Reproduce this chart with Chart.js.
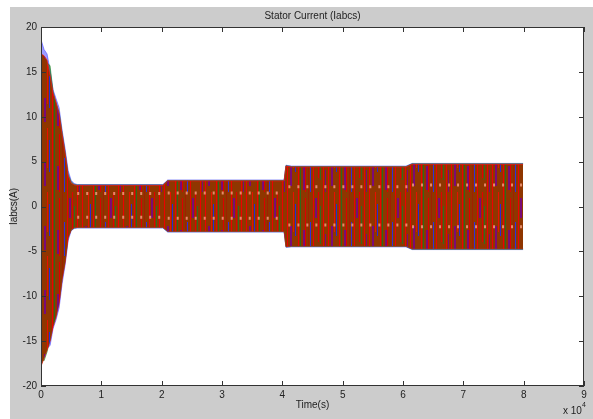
<!DOCTYPE html>
<html>
<head>
<meta charset="utf-8">
<script src="https://cdn.jsdelivr.net/npm/chart.js@4/dist/chart.umd.min.js"></script>
<style>
  html, body { margin: 0; padding: 0; background: #ffffff; }
  #wrap { width: 593px; height: 419px; position: relative; }
</style>
</head>
<body>
<div id="wrap"><canvas id="c" width="593" height="419"></canvas></div>
<script>
// Time samples of the current envelopes (units of 1e4 s)
const envTime = [0, 0.05, 0.1, 0.15, 0.2, 0.25, 0.3, 0.35, 0.4, 0.45, 0.5, 0.55, 0.6, 2.02, 2.1, 4.03, 4.06, 4.15, 6.05, 6.15, 7.99];

// Phase a (blue) peak envelope, A
const iaUpper = [18.6, 17.5, 17.0, 15.2, 13.0, 12.0, 11.0, 8.5, 6.4, 4.0, 2.9, 2.55, 2.45, 2.45, 2.95, 2.95, 4.6, 4.5, 4.5, 4.8, 4.8];
const iaLower = [-16.5, -16.5, -15.8, -15.5, -13.6, -12.6, -11.3, -8.6, -6.5, -3.8, -2.7, -2.45, -2.4, -2.4, -2.85, -2.85, -4.55, -4.5, -4.5, -4.8, -4.8];

// Phase b (green) peak envelope, A
const ibUpper = [16.0, 16.2, 16.0, 15.7, 12.8, 11.5, 10.5, 8.2, 6.0, 3.6, 2.75, 2.45, 2.4, 2.4, 2.9, 2.9, 4.55, 4.45, 4.45, 4.75, 4.75];
const ibLower = [-17.0, -17.2, -16.2, -14.8, -13.0, -12.0, -10.6, -8.0, -6.0, -3.4, -2.65, -2.4, -2.35, -2.35, -2.8, -2.8, -4.5, -4.45, -4.45, -4.75, -4.75];

// Phase c (red) peak envelope, A
const icUpper = [17.0, 16.8, 16.3, 14.6, 12.6, 11.6, 10.3, 8.0, 5.9, 3.4, 2.6, 2.4, 2.35, 2.35, 2.85, 2.85, 4.5, 4.4, 4.4, 4.7, 4.7];
const icLower = [-17.8, -16.9, -16.0, -15.0, -13.4, -12.3, -10.8, -8.1, -6.2, -3.5, -2.6, -2.35, -2.3, -2.3, -2.75, -2.75, -4.45, -4.4, -4.4, -4.7, -4.7];

// Levels where the three phases cross each other (light streaks inside the band)
const crossTime  = [0.6, 2.02, null, 2.1, 4.03, null, 4.1, 6.1, null, 6.15, 7.99];
const crossUpper = [1.45, 1.45, null, 1.5, 1.5, null, 2.2, 2.2, null, 2.4, 2.4];
const crossLower = [-1.2, -1.2, null, -1.3, -1.3, null, -2.06, -2.06, null, -2.25, -2.25];

// Axis ticks
const xTicks = [0, 1, 2, 3, 4, 5, 6, 7, 8, 9];
const yTicks = [-20, -15, -10, -5, 0, 5, 10, 15, 20];

const FONT = '"Liberation Sans", Arial, sans-serif';

function pts(xs, ys) {
  return xs.map((x, i) => ({ x: x === null ? NaN : x, y: ys[i] === null ? NaN : ys[i] }));
}

// Striped texture for the dense overlapping waveforms
function waveTexture() {
  const p = document.createElement('canvas');
  p.width = 41; p.height = 64;
  const g = p.getContext('2d');
  g.fillStyle = '#8f3600';
  g.fillRect(0, 0, 41, 64);
  // [x, colour, width, y0, y1]
  const stripes = [
    [0, '#ee0000', 1, 0, 64], [3, '#7a0a78', 2, 34, 58], [6, '#e81000', 1, 0, 40],
    [8, '#2a2ad0', 1, 12, 44], [11, '#ee0000', 1, 0, 64], [13, '#2f6a1a', 1, 0, 64],
    [16, '#7a0a78', 2, 38, 62], [18, '#dd0000', 1, 6, 64], [21, '#a02000', 1, 0, 64],
    [23, '#3030d8', 1, 30, 64], [26, '#ee0000', 1, 0, 64], [28, '#7a0a78', 2, 6, 26],
    [31, '#e00000', 1, 0, 50], [33, '#356a1f', 1, 14, 52], [36, '#ee0000', 1, 0, 64],
    [38, '#7a0a78', 1, 42, 64]
  ];
  stripes.forEach(s => {
    g.fillStyle = s[1];
    g.fillRect(s[0], s[3], s[2], s[4] - s[3]);
  });
  return g.createPattern(p, 'repeat');
}

const frame = {
  id: 'frame',
  beforeDraw(chart) {
    const { ctx, chartArea: a } = chart;
    ctx.save();
    ctx.fillStyle = '#ffffff';
    ctx.fillRect(0, 0, chart.width, chart.height);
    ctx.fillStyle = '#cccccc';
    ctx.fillRect(10, 7, chart.width - 10, chart.height - 7);
    ctx.fillStyle = '#ffffff';
    ctx.fillRect(a.left, a.top, a.right - a.left, a.bottom - a.top);
    ctx.restore();
  },
  afterDatasetsDraw(chart) {
    const { ctx, chartArea: a, scales } = chart;
    ctx.save();
    ctx.strokeStyle = '#333333';
    ctx.lineWidth = 1;
    ctx.beginPath();
    xTicks.forEach(v => {
      const px = Math.round(scales.x.getPixelForValue(v)) + 0.5;
      ctx.moveTo(px, a.bottom); ctx.lineTo(px, a.bottom - 5);
      ctx.moveTo(px, a.top); ctx.lineTo(px, a.top + 5);
    });
    yTicks.forEach(v => {
      const py = Math.round(scales.y.getPixelForValue(v)) + 0.5;
      ctx.moveTo(a.left, py); ctx.lineTo(a.left + 5, py);
      ctx.moveTo(a.right, py); ctx.lineTo(a.right - 5, py);
    });
    ctx.stroke();
    ctx.strokeRect(Math.round(a.left) + 0.5, Math.round(a.top) + 0.5,
                   Math.round(a.right - a.left) - 1, Math.round(a.bottom - a.top) - 1);
    ctx.restore();
  },
  afterDraw(chart) {
    const { ctx, chartArea: a } = chart;
    const cx = (a.left + a.right) / 2;
    ctx.save();
    ctx.fillStyle = '#222222';
    ctx.font = '10px ' + FONT;
    ctx.textAlign = 'center';
    ctx.textBaseline = 'middle';
    ctx.fillText('Stator Current (Iabcs)', cx, 16);
    ctx.fillText('Time(s)', cx, 405);
    ctx.save();
    ctx.translate(14, (a.top + a.bottom) / 2);
    ctx.rotate(-Math.PI / 2);
    ctx.fillText('Iabcs(A)', 0, 0);
    ctx.restore();
    ctx.textAlign = 'left';
    ctx.fillText('x 10', 563, 411);
    ctx.font = '7px ' + FONT;
    ctx.fillText('4', 582, 405);
    ctx.restore();
  }
};

const band = (upper, lower, target, line, fillStyle) => ([
  { data: pts(envTime, upper), borderColor: line, borderWidth: 1, backgroundColor: fillStyle,
    fill: target, pointRadius: 0, tension: 0 },
  { data: pts(envTime, lower), borderColor: line, borderWidth: 1, backgroundColor: fillStyle,
    fill: false, pointRadius: 0, tension: 0 }
]);

const crossLine = ys => ({
  data: pts(crossTime, ys), borderColor: 'rgba(250,160,130,0.8)', borderWidth: 3,
  borderDash: [2, 7], fill: false, pointRadius: 0, spanGaps: false
});

const datasets = [
  crossLine(crossUpper),
  crossLine(crossLower),
  ...band(icUpper, icLower, 3, 'rgba(230,20,20,0.8)', waveTexture()),
  ...band(ibUpper, ibLower, 5, 'rgba(20,130,20,0.55)', 'rgba(20,130,20,0.55)'),
  ...band(iaUpper, iaLower, 7, 'rgba(60,60,255,0.55)', 'rgba(60,60,255,0.5)')
];

new Chart(document.getElementById('c'), {
  type: 'line',
  data: { datasets },
  options: {
    responsive: false,
    animation: false,
    events: [],
    layout: { padding: { left: 0, right: 9, top: 27, bottom: 0 } },
    plugins: { legend: { display: false }, tooltip: { enabled: false }, title: { display: false } },
    scales: {
      x: {
        type: 'linear', min: 0, max: 9,
        afterBuildTicks: s => { s.ticks = xTicks.map(v => ({ value: v })); },
        afterFit: s => { s.height = 33; },
        ticks: { font: { family: FONT, size: 10 }, color: '#222222', padding: 3, maxRotation: 0, autoSkip: false },
        grid: { display: false, drawTicks: false },
        border: { display: false }
      },
      y: {
        type: 'linear', min: -20, max: 20,
        afterBuildTicks: s => { s.ticks = yTicks.map(v => ({ value: v })); },
        afterFit: s => { s.width = 41; },
        ticks: { font: { family: FONT, size: 10 }, color: '#222222', padding: 4, autoSkip: false },
        grid: { display: false, drawTicks: false },
        border: { display: false }
      }
    }
  },
  plugins: [frame]
});
</script>
</body>
</html>
